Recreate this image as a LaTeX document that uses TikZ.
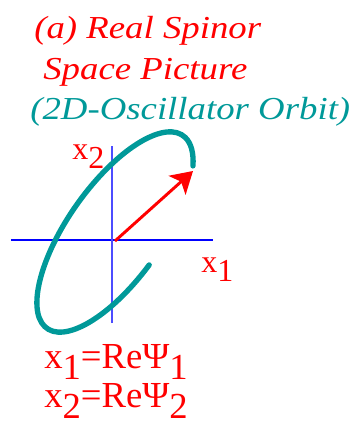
\documentclass[tikz,border=0pt]{standalone}
\usepackage{fontspec}
\setmainfont{Liberation Serif}
\usepackage{tikz}
\usetikzlibrary{arrows.meta}
\definecolor{titlered}{HTML}{FF0000}
\definecolor{orbitteal}{HTML}{009999}
\definecolor{axisblue}{HTML}{0000FF}
\newcommand{\SpinorTitleFont}{\fontsize{24pt}{28pt}\selectfont\itshape}
\newcommand{\SpinorLabelFont}{\fontsize{24pt}{28pt}\selectfont}
\newcommand{\SpinorEqFont}{\fontsize{27.5pt}{32pt}\selectfont}
\newcommand{\lowsub}[1]{\raisebox{-0.3em}{#1}}
\tikzset{
  title text/.style={anchor=base west, inner sep=0pt, xscale=1.15, font=\SpinorTitleFont},
  axis label/.style={anchor=base west, inner sep=0pt, text=titlered, font=\SpinorLabelFont},
  eq label/.style={axis label, font=\SpinorEqFont},
  axis line/.style={draw=axisblue, line width=1pt},
  orbit line/.style={draw=orbitteal, line width=4pt, line cap=round},
  spinor arrow/.style={-{Stealth[length=16pt, width=19pt, inset=4pt]},
    draw=titlered, fill=titlered, line width=2.2pt}
}

\begin{document}
\begin{tikzpicture}[x=0.75pt, y=0.75pt]
  \useasboundingbox (0,0) rectangle (357,430);
  % title, three lines
  \node[title text, text=titlered] (title-a) at (34,392) {(a) Real Spinor};
  \node[title text, text=titlered] (title-b) at (43,351) {Space Picture};
  \node[title text, text=orbitteal] (title-c) at (30,311) {(2D-Oscillator Orbit)};
  % axes
  \coordinate (origin) at (115,189);
  \coordinate (x1-left) at (11,190);
  \coordinate (x1-right) at (213,190);
  \coordinate (x2-top) at (112,284);
  \coordinate (x2-bottom) at (112,107);
  \draw[axis line] (x1-left) -- (x1-right);
  \draw[axis line, draw=axisblue!70] (x2-bottom) -- (x2-top);
  % orbit: tilted ellipse, open at the lower right
  \begin{scope}[shift={(115,198)}, rotate=54.8]
    \draw[orbit line] (266.5:118 and 47) arc[start angle=266.5, end angle=-33,
      x radius=118, y radius=47];
  \end{scope}
  \coordinate (spinor-tip) at (193,259);
  \draw[spinor arrow] (origin) -- (spinor-tip);
  % labels
  \node[axis label] (x2-label) at (72,271) {x\lowsub{2}};
  \node[axis label] (x1-label) at (201,158) {x\lowsub{1}};
  \node[eq label] (re-psi-1) at (44,61) {x\lowsub{1}=ReΨ\lowsub{1}};
  \node[eq label] (re-psi-2) at (44,22) {x\lowsub{2}=ReΨ\lowsub{2}};
\end{tikzpicture}
\end{document}
